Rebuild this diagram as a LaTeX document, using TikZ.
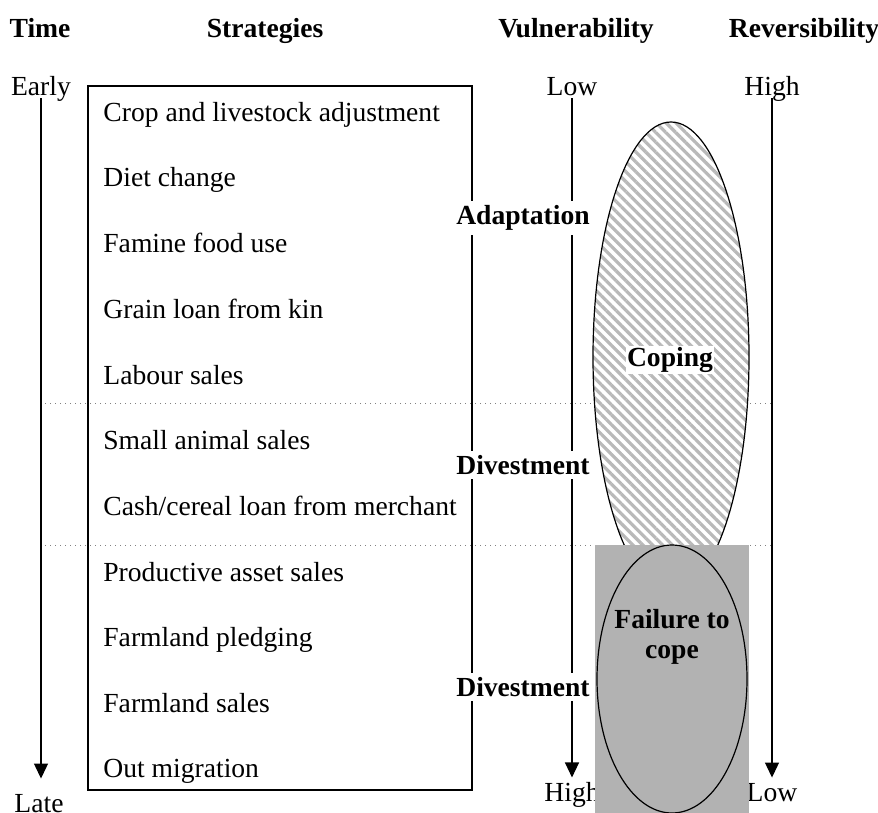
\documentclass[tikz,border=0pt]{standalone}
\usepackage{fontspec}
\setmainfont{Liberation Serif}
\usetikzlibrary{arrows.meta,patterns.meta}
\definecolor{HatchGray}{RGB}{185,185,185}
\definecolor{FailGray}{RGB}{178,178,178}

\begin{document}
\begin{tikzpicture}[x=0.5pt,y=-0.5pt,
  every node/.style={font=\fontsize{13.8}{15}\selectfont},
  head/.style={font=\fontsize{13.8}{15}\selectfont\bfseries},
  item/.style={anchor=base west,inner sep=0pt},
  stage/.style={font=\fontsize{13.8}{15}\selectfont\bfseries,fill=white,inner sep=2pt},
  endlbl/.style={anchor=base,inner sep=1pt,text depth=0pt},
  axis/.style={line width=0.6pt,-{Triangle[width=7pt,length=7.5pt]}},
  sep/.style={dotted,gray,line width=0.5pt},
]
\useasboundingbox (0,0) rectangle (878,813);

% column heads
\node[head,anchor=base] (hTime) at (40,38) {Time};
\node[head,anchor=base] (hStrat) at (265,38) {Strategies};
\node[head,anchor=base] (hVuln) at (576,38) {Vulnerability};
\node[head,anchor=base] (hRev) at (804,38) {Reversibility};

% stage separators
\draw[sep] (40,403) -- (772,403);
\draw[sep] (40,545) -- (772,545);

% strategies box
\draw[line width=0.6pt] (88,86) rectangle (472,790);
\node[item] (s1) at (103,121) {Crop and livestock adjustment};
\node[item] (s2) at (103,186) {Diet change};
\node[item] (s3) at (103,252) {Famine food use};
\node[item] (s4) at (103,318) {Grain loan from kin};
\node[item] (s5) at (103,384) {Labour sales};
\node[item] (s6) at (103,449) {Small animal sales};
\node[item] (s7) at (103,515) {Cash/cereal loan from merchant};
\node[item] (s8) at (103,581) {Productive asset sales};
\node[item] (s9) at (103,646) {Farmland pledging};
\node[item] (s10) at (103,712) {Farmland sales};
\node[item] (s11) at (103,777) {Out migration};

% axes
\node[endlbl] (early) at (41,96) {Early};
\node[endlbl] (late) at (39,812) {Late};
\draw[axis,shorten >=6.5pt] (early.south) -- (early.south |- late.north);
\node[endlbl] (vLow) at (572,96) {Low};
\node[endlbl] (vHigh) at (572,801) {High};
\draw[axis,shorten >=1pt] (vLow.south) -- (vHigh.north);
\node[endlbl] (rHigh) at (772,96) {High};
\node[endlbl] (rLow) at (772,801) {Low};
\draw[axis,shorten >=1.5pt] (rHigh.south) -- (rLow.north);

% stages
\node[stage] (adapt) at (523,218) {Adaptation};
\node[stage] (divest1) at (523,465) {Divestment};
\node[stage] (divest2) at (523,687) {Divestment};

% coping
\draw[line width=0.6pt,preaction={fill=white},
      pattern={Lines[angle=-45,distance=3.5pt,line width=1.6pt]},pattern color=HatchGray]
  (671,357) ellipse [x radius=39pt,y radius=117.5pt];
\node[head,fill=white,inner sep=0.5pt] (coping) at (670,360) {Coping};

% failure to cope
\fill[FailGray] (595,545) rectangle (749,813);
\draw[line width=0.6pt] (672,679) ellipse [x radius=37.5pt,y radius=67pt];
\node[head,align=center] (fail) at (672,637) {Failure to\\cope};
\end{tikzpicture}
\end{document}
